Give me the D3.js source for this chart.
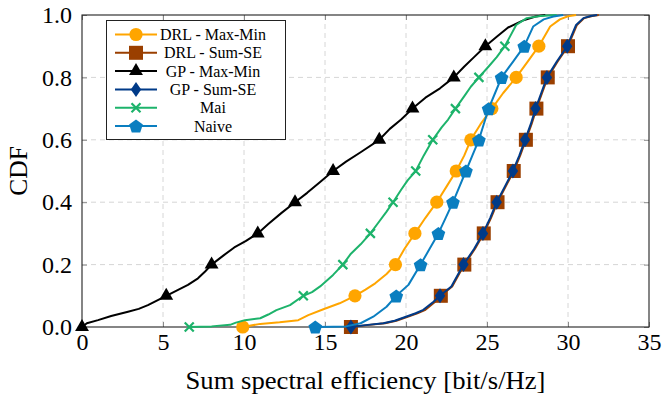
<!DOCTYPE html>
<html><head><meta charset="utf-8">
<script src="https://cdn.jsdelivr.net/npm/d3@7"></script>
<style>
html,body{margin:0;padding:0;background:#fff;}
svg{display:block;font-family:"Liberation Serif","Times New Roman",serif;}
</style></head>
<body><svg id="chart" width="663" height="395"></svg>
<script>
// ---------------- data ----------------
const seriesNames = ["DRL - Max-Min","DRL - Sum-SE","GP - Max-Min","GP - Sum-SE","Mai","Naive"];
const xTicks = [0,5,10,15,20,25,30,35];
const yTicks = [0,0.2,0.4,0.6,0.8,1.0];
const markerLevels = [0,0.1,0.2,0.3,0.4,0.5,0.6,0.7,0.8,0.9];

// DRL - Max-Min
const drlMaxMinX = [9.92,11.0,12.2,13.35,13.97,14.9,15.9,16.85,17.5,18.1,18.8,19.35,19.9,20.55,21.2,21.9,22.5,23.1,23.6,24.0,24.6,25.3,26.0,26.8,27.5,28.2,28.9,29.5,30.0,30.5];
const drlMaxMinY = [0,0.01,0.015,0.022,0.038,0.057,0.076,0.1,0.12,0.14,0.17,0.2,0.25,0.3,0.35,0.4,0.45,0.5,0.55,0.6,0.65,0.7,0.75,0.8,0.85,0.9,0.963,0.986,0.996,1.0];
const drlMaxMinMarkX = [9.92,16.85,19.35,20.55,21.9,23.1,24.0,25.3,26.8,28.2];

// DRL - Sum-SE
const drlSumX = [16.6,17.6,18.7,19.4,20.1,20.7,21.2,21.8,22.15,22.85,23.6,24.25,24.8,25.25,25.65,26.15,26.65,27.05,27.4,27.75,28.05,28.4,28.75,29.35,30.0,30.55,31.0,31.5,31.9];
const drlSumY = [0,0.006,0.012,0.02,0.033,0.044,0.055,0.081,0.1,0.13,0.2,0.25,0.3,0.35,0.4,0.45,0.5,0.55,0.6,0.65,0.7,0.75,0.8,0.85,0.9,0.968,0.99,0.997,1.0];
const drlSumMarkX = [16.6,22.15,23.6,24.8,25.65,26.65,27.4,28.05,28.75,30.0];

// GP - Max-Min
const gpMaxMinX = [0,0.3,0.99,1.8,2.84,3.5,4.07,5.2,5.9,6.54,7.16,7.6,8.0,8.7,9.4,10.1,10.85,11.5,12.3,13.15,13.9,14.7,15.5,16.3,17.2,18.35,19.0,19.7,20.4,21.2,22.1,22.95,23.6,24.2,24.9,25.6,26.3,27.2,28.0,28.6];
const gpMaxMinY = [0,0.012,0.022,0.035,0.049,0.058,0.07,0.1,0.118,0.135,0.156,0.178,0.2,0.228,0.255,0.275,0.3,0.33,0.365,0.4,0.43,0.465,0.5,0.53,0.56,0.6,0.635,0.665,0.7,0.735,0.765,0.8,0.835,0.865,0.9,0.93,0.96,0.982,0.995,1.0];
const gpMaxMinMarkX = [0,5.2,8.0,10.85,13.15,15.5,18.35,20.4,22.95,24.9];

// GP - Sum-SE
const gpSumX = [16.6,17.5,18.6,19.3,20.0,20.6,21.07,21.7,22.1,22.8,23.55,24.2,24.75,25.2,25.6,26.1,26.6,27.0,27.35,27.7,28.0,28.35,28.7,29.3,29.95,30.5,30.95,31.4,31.8];
const gpSumY = [0,0.006,0.012,0.02,0.033,0.044,0.055,0.081,0.1,0.13,0.2,0.25,0.3,0.35,0.4,0.45,0.5,0.55,0.6,0.65,0.7,0.75,0.8,0.85,0.9,0.968,0.99,0.997,1.0];
const gpSumMarkX = [16.6,22.1,23.55,24.75,25.6,26.6,27.35,28.0,28.7,29.95];

// Mai
const maiX = [6.62,8.0,9.14,9.5,10.06,11.0,11.5,12.0,12.84,13.66,14.2,14.7,15.5,16.1,16.6,17.2,17.8,18.3,18.8,19.2,19.7,20.1,20.6,21.1,21.65,22.2,22.6,23.05,23.6,24.0,24.5,25.1,25.6,26.1,26.8,27.45,28.3,29.3];
const maiY = [0,0.002,0.007,0.014,0.022,0.028,0.04,0.054,0.07,0.1,0.112,0.13,0.167,0.2,0.235,0.265,0.3,0.335,0.37,0.4,0.44,0.47,0.5,0.55,0.6,0.64,0.665,0.7,0.74,0.77,0.8,0.835,0.865,0.9,0.968,0.99,0.997,1.0];
const maiMarkX = [6.62,13.66,16.1,17.8,19.2,20.6,21.65,23.05,24.5,26.1];

// Naive
const naiveX = [14.4,15.5,16.3,17.2,17.98,18.8,19.4,20.15,20.9,21.45,22.0,22.45,22.9,23.3,23.7,24.1,24.5,24.8,25.1,25.5,25.9,26.6,27.3,27.85,28.5,29.1,29.7];
const naiveY = [0,0.001,0.002,0.012,0.033,0.065,0.1,0.135,0.2,0.25,0.3,0.35,0.4,0.45,0.5,0.55,0.6,0.65,0.7,0.75,0.8,0.85,0.9,0.963,0.986,0.995,1.0];
const naiveMarkX = [14.4,19.4,20.9,22.0,22.9,23.7,24.5,25.1,25.9,27.3];

// ---------------- build ----------------
const series = [
  {name:seriesNames[0], xs:drlMaxMinX, ys:drlMaxMinY, mx:drlMaxMinMarkX, color:"#FFA500", marker:"circle"},
  {name:seriesNames[1], xs:drlSumX, ys:drlSumY, mx:drlSumMarkX, color:"#9A3F00", marker:"square"},
  {name:seriesNames[2], xs:gpMaxMinX, ys:gpMaxMinY, mx:gpMaxMinMarkX, color:"#000000", marker:"triangle"},
  {name:seriesNames[3], xs:gpSumX, ys:gpSumY, mx:gpSumMarkX, color:"#003A88", marker:"diamond"},
  {name:seriesNames[4], xs:maiX, ys:maiY, mx:maiMarkX, color:"#1DB36B", marker:"cross"},
  {name:seriesNames[5], xs:naiveX, ys:naiveY, mx:naiveMarkX, color:"#0A7EC0", marker:"pentagon"}
];

const svg = d3.select("#chart");
const L=82, R=649, T=15, B=327;
const x = d3.scaleLinear().domain([0,35]).range([L,R]);
const y = d3.scaleLinear().domain([0,1]).range([B,T]);

// grid
const grid = svg.append("g").attr("stroke","#d6d6d6").attr("stroke-width",1).attr("stroke-dasharray","5,4");
xTicks.filter(v=>v>0&&v<35).forEach(v=>{
  grid.append("line").attr("x1",x(v)).attr("x2",x(v)).attr("y1",T).attr("y2",B);
});
yTicks.filter(v=>v>0&&v<1).forEach(v=>{
  grid.append("line").attr("x1",L).attr("x2",R).attr("y1",y(v)).attr("y2",y(v));
});

// axes
function styleAxis(g, showLabels){
  g.select(".domain").remove();
  g.selectAll(".tick line").attr("stroke","#8a8a8a").attr("stroke-width",1);
  g.selectAll(".tick text").attr("fill","#000").style("font-size","24px")
    .style("font-family",'"Liberation Serif",serif');
  if(!showLabels) g.selectAll(".tick text").remove();
}
svg.append("g").attr("transform",`translate(0,${B})`)
  .call(d3.axisBottom(x).tickValues(xTicks).tickFormat(d3.format("d")).tickSize(-5).tickPadding(6))
  .call(g=>styleAxis(g,true));
svg.append("g").attr("transform",`translate(0,${T})`)
  .call(d3.axisTop(x).tickValues(xTicks).tickSize(-5))
  .call(g=>styleAxis(g,false));
svg.append("g").attr("transform",`translate(${L},0)`)
  .call(d3.axisLeft(y).tickValues(yTicks).tickFormat(d3.format(".1f")).tickSize(-5).tickPadding(10))
  .call(g=>styleAxis(g,true));
svg.append("g").attr("transform",`translate(${R},0)`)
  .call(d3.axisRight(y).tickValues(yTicks).tickSize(-5))
  .call(g=>styleAxis(g,false));

// frame
svg.append("rect").attr("x",L).attr("y",T).attr("width",R-L).attr("height",B-T)
  .attr("fill","none").attr("stroke","#222").attr("stroke-width",1.1);

// marker shapes
function drawMarker(g, type, cx, cy, color){
  if(type==="circle"){
    g.append("circle").attr("cx",cx).attr("cy",cy).attr("r",6.6).attr("fill",color);
  } else if(type==="square"){
    g.append("rect").attr("x",cx-7).attr("y",cy-7).attr("width",14).attr("height",14).attr("fill",color);
  } else if(type==="triangle"){
    const r=8;
    g.append("path").attr("d",`M${cx},${cy-r}L${cx+r*0.866},${cy+r/2}L${cx-r*0.866},${cy+r/2}Z`).attr("fill",color);
  } else if(type==="diamond"){
    g.append("path").attr("d",`M${cx},${cy-7.5}L${cx+5.2},${cy}L${cx},${cy+7.5}L${cx-5.2},${cy}Z`).attr("fill",color);
  } else if(type==="cross"){
    const h=4.5;
    g.append("path").attr("d",`M${cx-h},${cy-h}L${cx+h},${cy+h}M${cx-h},${cy+h}L${cx+h},${cy-h}`)
      .attr("stroke",color).attr("stroke-width",2.2).attr("fill","none");
  } else if(type==="pentagon"){
    const r=7.2, pts=[];
    for(let i=0;i<5;i++){const a=-Math.PI/2+i*2*Math.PI/5; pts.push([cx+r*Math.cos(a), cy+r*Math.sin(a)+0.8]);}
    g.append("path").attr("d","M"+pts.map(p=>p.join(",")).join("L")+"Z").attr("fill",color);
  }
}

const line = d3.line().x(d=>x(d[0])).y(d=>y(d[1]));
series.forEach(s=>{
  const g = svg.append("g");
  const pts = s.xs.map((v,i)=>[v,s.ys[i]]);
  g.append("path").datum(pts).attr("d",line).attr("fill","none")
    .attr("stroke",s.color).attr("stroke-width",2).attr("stroke-linejoin","round");
  s.mx.forEach((v,i)=>drawMarker(g, s.marker, x(v), y(markerLevels[i]), s.color));
});

// legend
const lg = svg.append("g");
lg.append("rect").attr("x",106.5).attr("y",20.5).attr("width",179).attr("height",119)
  .attr("fill","#fff").attr("stroke","#222").attr("stroke-width",1);
series.forEach((s,i)=>{
  const cy = 34.5 + i*18.3;
  lg.append("line").attr("x1",115).attr("x2",157).attr("y1",cy).attr("y2",cy)
    .attr("stroke",s.color).attr("stroke-width",2);
  drawMarker(lg, s.marker, 136, cy, s.color);
  lg.append("text").attr("x",213).attr("y",cy).attr("text-anchor","middle")
    .attr("dominant-baseline","central").style("font-size","16px").text(s.name);
});

// axis titles
svg.append("text").attr("x",(L+R)/2).attr("y",389).attr("text-anchor","middle")
  .attr("textLength",360).attr("lengthAdjust","spacingAndGlyphs")
  .style("font-size","25.5px").text("Sum spectral efficiency [bit/s/Hz]");
svg.append("text").attr("transform",`translate(27,${(T+B)/2}) rotate(-90)`).attr("text-anchor","middle")
  .style("font-size","25.5px").text("CDF");
</script></body></html>
